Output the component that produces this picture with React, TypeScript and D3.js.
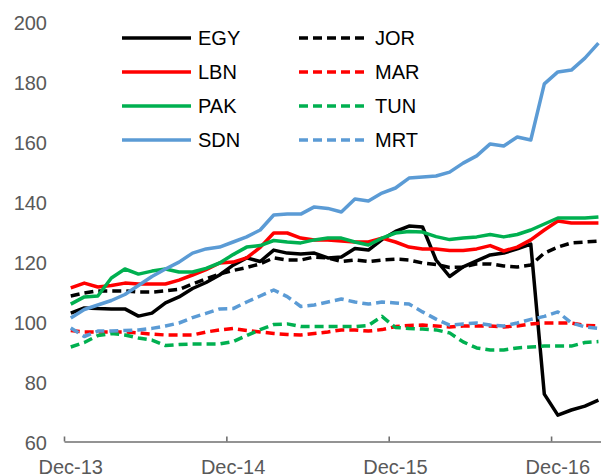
import React, { useEffect, useRef } from 'react';
import * as d3 from 'd3';

// monthly index values, Dec-13 .. Mar-17
const months = d3.range(40);
const xTickIdx = [0, 12, 24, 36];
const xTickLabels = ['Dec-13', 'Dec-14', 'Dec-15', 'Dec-16'];
const yTicks = [60, 80, 100, 120, 140, 160, 180, 200];

const EGY = [103.3, 105, 104.8, 104.7, 104.7, 102.3, 103.3, 106.7, 108.7, 111.5, 113.5, 116, 119.3, 121.7, 120.5, 124.3, 123.3, 123, 123.3, 121.7, 122, 124.8, 124.3, 127.8, 130.5, 132.3, 132, 121, 115.5, 118.7, 120.7, 122.7, 123.3, 124.7, 126.3, 76.3, 69.3, 71, 72.3, 74.3];
const JOR = [109, 110, 110.7, 110.7, 110.7, 110.3, 110.3, 110.7, 111.2, 113, 114.7, 116.3, 117.5, 118.5, 119.7, 121.7, 121, 121, 122, 121.7, 120.5, 121, 120.5, 121, 121.3, 121, 120, 119.5, 118.5, 118.7, 119.7, 119.7, 119, 118.7, 119.3, 123.3, 125.3, 126.7, 127, 127.3];
const LBN = [111.7, 113.3, 112, 112.5, 113.3, 113, 113, 113, 114.3, 116, 117.8, 120, 120.3, 121.7, 125.2, 130, 130, 128.3, 127.7, 127.7, 127.3, 127, 127, 128.3, 127, 125.3, 124.7, 124.7, 124.2, 124.2, 124.7, 125.8, 124, 125.3, 127.7, 131, 134, 133.3, 133.3, 133.3];
const MAR = [97.5, 97, 97, 97, 97, 96.7, 96.3, 96, 96, 96, 97, 97.7, 98.2, 97.5, 97, 96.5, 96.2, 96, 96.5, 97, 97.7, 97.7, 97.3, 97.8, 98.8, 99.2, 99.3, 99, 98.7, 99, 99, 99, 98.7, 99, 99.7, 100, 100, 100, 99.2, 99];
const PAK = [106.3, 108.7, 109, 115, 118, 116.3, 117.3, 118, 117, 117, 118.2, 120, 122.8, 125.3, 125.8, 127.5, 127, 126.7, 127.7, 128.3, 128.3, 127, 126, 128.3, 130, 130.5, 130.3, 128.8, 127.8, 128.3, 128.7, 129.5, 128.7, 129.5, 131, 133, 135, 135, 135, 135.3];
const TUN = [92, 93.5, 95.8, 96.5, 96, 95, 94.3, 92.5, 92.8, 93, 93, 93, 93.8, 95.8, 97.8, 99.5, 99.7, 98.8, 98.8, 98.8, 98.8, 98.8, 99.2, 102.2, 98.5, 98.2, 98, 97.7, 96.7, 93.7, 91.7, 91, 91, 91.7, 92, 92.3, 92.3, 92.3, 93.5, 93.8];
const SDN = [101.7, 104.5, 106, 107.5, 109.5, 112.5, 115.5, 118, 120.3, 123.3, 124.7, 125.3, 127, 128.7, 131, 136, 136.3, 136.3, 138.7, 138.2, 137, 141.3, 140.7, 143.3, 145, 148.3, 148.7, 149, 150.3, 153.3, 155.7, 159.7, 159, 162, 161, 179.7, 183.7, 184.3, 188.3, 193.3];
const MRT = [98.3, 95.5, 97.3, 97.3, 97.5, 97.7, 98.2, 99, 100, 101.8, 103.2, 104.7, 104.8, 107, 109, 111, 108.8, 105.5, 106, 107, 108, 107, 106.3, 107, 106.7, 106.3, 103.7, 101.3, 99.3, 99.7, 100, 99.3, 99, 100, 101.2, 102.2, 103.7, 100, 98.7, 98.2];

const series = [
  { name: 'EGY', values: EGY, color: '#000000', dashed: false },
  { name: 'JOR', values: JOR, color: '#000000', dashed: true },
  { name: 'LBN', values: LBN, color: '#FF0000', dashed: false },
  { name: 'MAR', values: MAR, color: '#FF0000', dashed: true },
  { name: 'PAK', values: PAK, color: '#00B050', dashed: false },
  { name: 'TUN', values: TUN, color: '#00B050', dashed: true },
  { name: 'SDN', values: SDN, color: '#5B9BD5', dashed: false },
  { name: 'MRT', values: MRT, color: '#5B9BD5', dashed: true },
];

export default function App() {
  const ref = useRef<SVGSVGElement | null>(null);
  useEffect(() => {
    const svg = d3.select(ref.current);
    svg.selectAll('*').remove();
    const width = 601, height = 476;
    const font = '"Liberation Sans", Arial, sans-serif';
    const x = d3.scaleLinear().domain([0, 40]).range([64, 64 + 40 * 13.53]);
    const y = d3.scaleLinear().domain([60, 200]).range([443, 23]);

    svg.attr('viewBox', `0 0 ${width} ${height}`);

    // x axis
    const gx = svg.append('g').attr('transform', `translate(0,${y(60) - 1.5})`)
      .call(d3.axisBottom(x).tickValues(xTickIdx).tickSizeInner(-5).tickSizeOuter(0).tickFormat(() => ''));
    gx.selectAll('path,line').attr('stroke', '#6f6f6f').attr('stroke-width', 1.6);
    gx.selectAll('text').remove();
    svg.append('g').selectAll('text').data(xTickIdx).join('text')
      .attr('x', d => x(d + 0.5))
      .attr('y', 474)
      .attr('text-anchor', 'middle')
      .attr('font-family', font).attr('font-size', 20).attr('fill', '#595959')
      .text((d, i) => xTickLabels[i]);

    // y axis labels
    const gy = svg.append('g').attr('transform', `translate(64,0)`)
      .call(d3.axisLeft(y).tickValues(yTicks).tickSize(0).tickPadding(17));
    gy.select('.domain').remove();
    gy.selectAll('text').attr('font-family', font).attr('font-size', 20).attr('fill', '#595959');

    const line = d3.line<number>().x((d, i) => x(months[i] + 0.5)).y(d => y(d));
    series.forEach(s => {
      svg.append('path').datum(s.values)
        .attr('d', line)
        .attr('fill', 'none')
        .attr('stroke', s.color)
        .attr('stroke-width', 3.5)
        .attr('stroke-linejoin', 'round')
        .attr('stroke-dasharray', s.dashed ? '9,5' : null);
    });

    // legend, two columns, filled row-wise
    const lg = svg.append('g');
    series.forEach((s, i) => {
      const col = i % 2, row = Math.floor(i / 2);
      const lx = col === 0 ? 122 : 299;
      const ly = 38 + row * 34;
      lg.append('line').attr('x1', lx).attr('x2', lx + 69).attr('y1', ly).attr('y2', ly)
        .attr('stroke', s.color).attr('stroke-width', 3.5)
        .attr('stroke-dasharray', s.dashed ? '9,5' : null);
      lg.append('text').attr('x', lx + 76).attr('y', ly + 7.2)
        .attr('font-family', font).attr('font-size', 20).attr('fill', '#000')
        .text(s.name);
    });
  }, []);
  return (
    <svg ref={ref} width={601} height={476}
      style={{ position: 'fixed', left: 0, top: 0, background: '#fff' }} />
  );
}
